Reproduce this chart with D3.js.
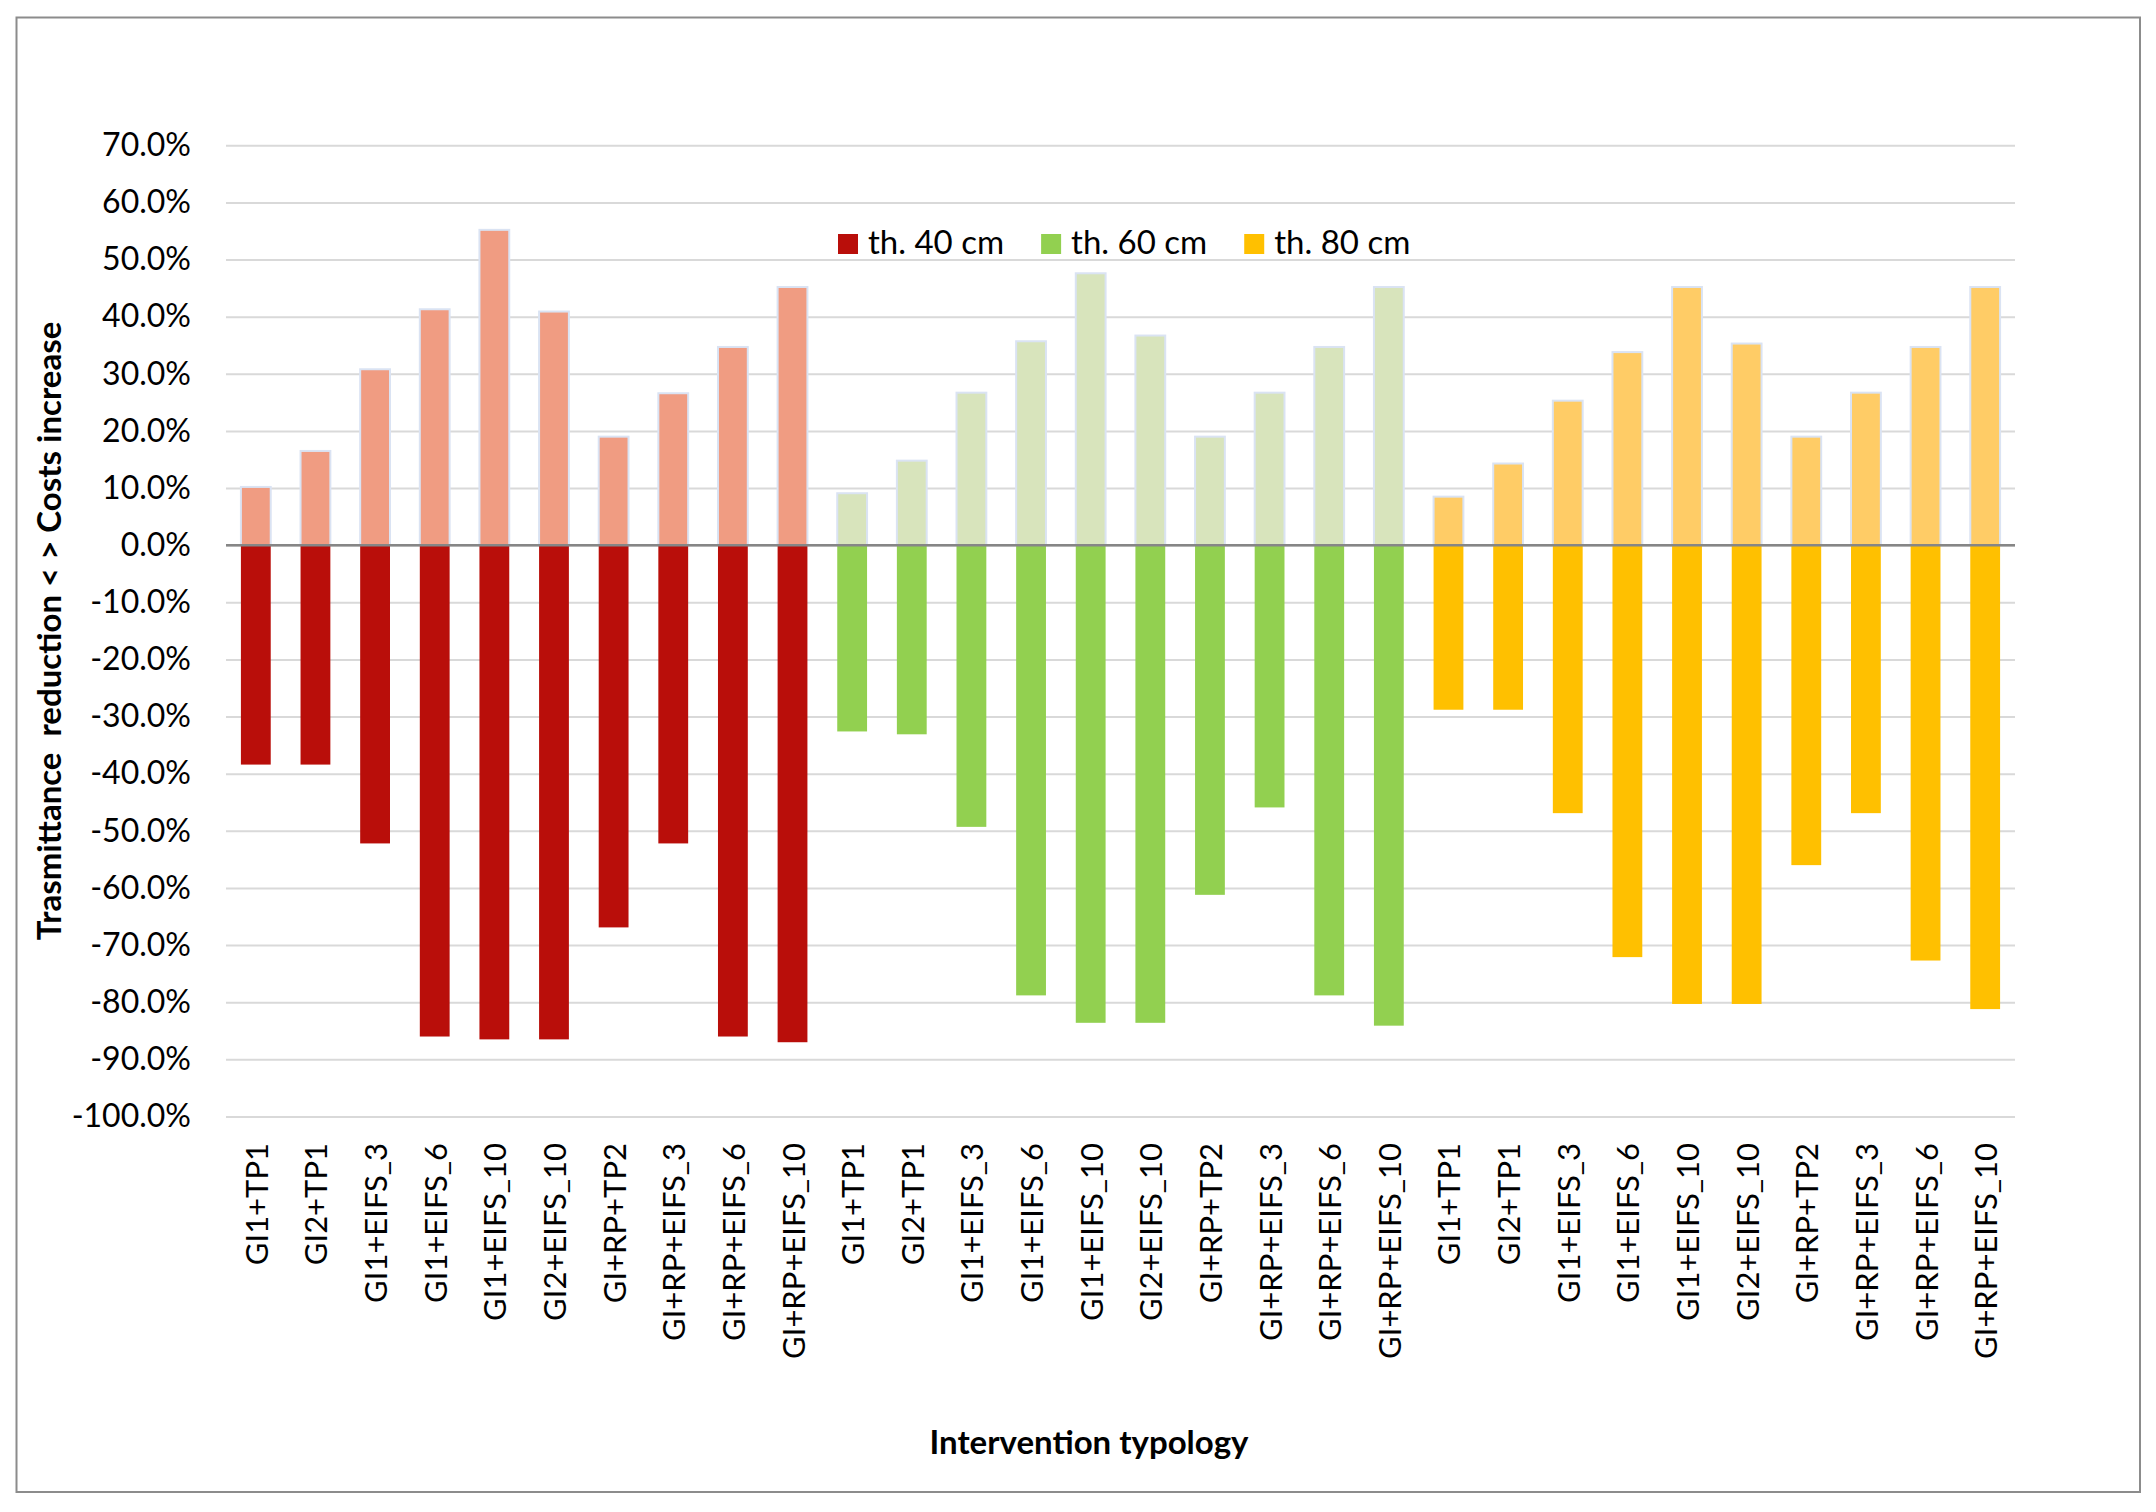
<!DOCTYPE html>
<html>
<head>
<meta charset="utf-8">
<script src="https://cdn.jsdelivr.net/npm/d3@7"></script>
<style>
  body { margin: 0; background: #fff; }
  text { font-family: Lato, "Open Sans", sans-serif; fill: #000; }
</style>
</head>
<body>
<svg width="2156" height="1512"></svg>
<script>
// intervention typologies (repeated for each wall thickness)
const typologies = ["GI1+TP1", "GI2+TP1", "GI1+EIFS_3", "GI1+EIFS_6", "GI1+EIFS_10",
    "GI2+EIFS_10", "GI+RP+TP2", "GI+RP+EIFS_3", "GI+RP+EIFS_6", "GI+RP+EIFS_10"];
const thicknesses = ["th. 40 cm", "th. 60 cm", "th. 80 cm"];

// costs increase (%)
const costs40 = [10.2, 16.5, 30.8, 41.3, 55.2, 40.9, 19.0, 26.6, 34.7, 45.2];
const costs60 = [9.1, 14.8, 26.7, 35.7, 47.6, 36.7, 19.0, 26.7, 34.7, 45.2];
const costs80 = [8.5, 14.3, 25.3, 33.8, 45.2, 35.3, 19.0, 26.7, 34.7, 45.2];

// trasmittance reduction (%)
const trasm40 = [-38.4, -38.4, -52.2, -86.0, -86.5, -86.5, -66.9, -52.2, -86.0, -87.0];
const trasm60 = [-32.6, -33.1, -49.3, -78.8, -83.6, -83.6, -61.2, -45.9, -78.8, -84.1];
const trasm80 = [-28.8, -28.8, -46.9, -72.1, -80.3, -80.3, -56.0, -46.9, -72.7, -81.2];

const yTicks = d3.range(-100, 71, 10);

const darkColors = ["#B90E0A", "#92D050", "#FFC000"];
const lightColors = ["#F09C82", "#D8E4BC", "#FFCC66"];

const costs = [costs40, costs60, costs80];
const trasm = [trasm40, trasm60, trasm80];
const rows = [];
thicknesses.forEach(function (th, g) {
    typologies.forEach(function (t, i) {
        rows.push({ key: g + "|" + t, label: t, group: g, cost: costs[g][i], trasm: trasm[g][i] });
    });
});

const plotLeft = 226, plotRight = 2015, plotTop = 145.3, plotBottom = 1116.5;

const svg = d3.select("svg");
svg.append("rect").attr("width", 2156).attr("height", 1512).attr("fill", "#fff");
svg.append("rect")
    .attr("x", 16.5).attr("y", 17.5).attr("width", 2123.5).attr("height", 1474.5)
    .attr("fill", "none").attr("stroke", "#8c8c8c").attr("stroke-width", 2);

const xScale = d3.scaleBand()
    .domain(rows.map(function (d) { return d.key; }))
    .range([plotLeft, plotRight])
    .paddingInner(0.5)
    .paddingOuter(0.25);

const yScale = d3.scaleLinear()
    .domain([-100, 70])
    .range([plotBottom, plotTop]);

const loc = d3.formatLocale({ decimal: ".", thousands: ",", grouping: [3], currency: ["", ""], minus: "-" });
const pct = loc.format(".1f");

// gridlines + y labels
const yAxis = d3.axisLeft(yScale)
    .tickValues(yTicks)
    .tickSize(-(plotRight - plotLeft))
    .tickPadding(35)
    .tickFormat(function (d) { return pct(d) + "%"; });

const gy = svg.append("g")
    .attr("transform", "translate(" + plotLeft + ",0)")
    .call(yAxis);
gy.select(".domain").remove();
gy.selectAll(".tick line").attr("stroke", "#d9d9d9").attr("stroke-width", 2);
gy.selectAll(".tick text")
    .attr("font-size", 32)
    .attr("font-family", "Lato, sans-serif")
    .attr("fill", "#000");

// cost bars (positive)
svg.append("g").selectAll("rect")
    .data(rows)
    .enter()
    .append("rect")
    .attr("x", function (d) { return xScale(d.key); })
    .attr("width", xScale.bandwidth())
    .attr("y", function (d) { return yScale(d.cost); })
    .attr("height", function (d) { return yScale(0) - yScale(d.cost); })
    .attr("fill", function (d) { return lightColors[d.group]; })
    .attr("stroke", "#DAE3F3")
    .attr("stroke-width", 2);

// trasmittance bars (negative)
svg.append("g").selectAll("rect")
    .data(rows)
    .enter()
    .append("rect")
    .attr("x", function (d) { return xScale(d.key); })
    .attr("width", xScale.bandwidth())
    .attr("y", yScale(0))
    .attr("height", function (d) { return yScale(d.trasm) - yScale(0); })
    .attr("fill", function (d) { return darkColors[d.group]; });

// zero line
svg.append("line")
    .attr("x1", plotLeft).attr("x2", plotRight)
    .attr("y1", yScale(0)).attr("y2", yScale(0))
    .attr("stroke", "#868686").attr("stroke-width", 2.5);

// x labels
const xAxis = d3.axisBottom(xScale)
    .tickSize(0)
    .tickFormat(function (k) { return k.split("|")[1]; });
const gx = svg.append("g")
    .attr("transform", "translate(0," + 1143 + ")")
    .call(xAxis);
gx.select(".domain").remove();
gx.selectAll(".tick text")
    .attr("font-size", 31)
    .attr("font-family", "Lato, sans-serif")
    .attr("fill", "#000")
    .attr("text-anchor", "end")
    .attr("dy", null)
    .attr("y", 0)
    .attr("x", 0)
    .attr("dominant-baseline", "central")
    .attr("transform", "rotate(-90)");

// legend
const legend = svg.append("g");
let lx = 838;
thicknesses.forEach(function (th, g) {
    legend.append("rect")
        .attr("x", lx).attr("y", 234).attr("width", 20).attr("height", 20)
        .attr("fill", darkColors[g]);
    const t = legend.append("text")
        .attr("x", lx + 30).attr("y", 254)
        .attr("font-size", 33)
        .text(th);
    lx += 30 + t.node().getComputedTextLength() + 37;
});

// axis titles
svg.append("text")
    .attr("transform", "translate(61," + ((plotTop + plotBottom) / 2) + ") rotate(-90)")
    .attr("text-anchor", "middle")
    .attr("font-size", 33)
    .attr("font-weight", "bold")
    .style("white-space", "pre")
    .text("Trasmittance  reduction < > Costs increase");

svg.append("text")
    .attr("x", 1089).attr("y", 1454)
    .attr("text-anchor", "middle")
    .attr("font-size", 33)
    .attr("font-weight", "bold")
    .text("Intervention typology");
</script>
</body>
</html>
